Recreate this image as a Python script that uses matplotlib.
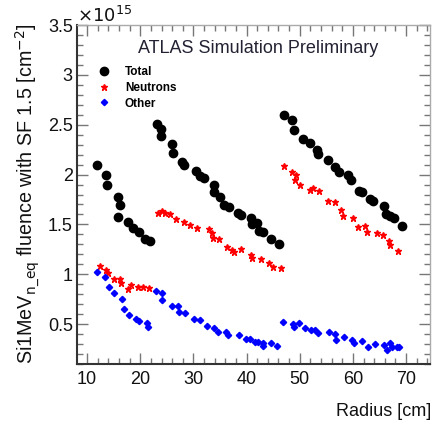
import numpy as np
import matplotlib
matplotlib.use('Agg')
import matplotlib.pyplot as plt
from matplotlib.ticker import MultipleLocator

plt.rcParams['font.family'] = ['Liberation Sans', 'DejaVu Sans']

# Total (radius cm, fluence x1e15)
tot_r = [11.9, 13.5, 13.7, 15.9, 16.1, 15.9, 17.6, 18.6, 19.8, 20.8, 21.8,
         23.2, 23.9, 23.9, 25.9, 26.1, 27.8, 28.3, 30.5, 31.2, 31.9, 33.9, 33.9, 35.0,
         35.8, 36.7, 38.3, 38.9, 40.8, 41.1, 42.0, 42.4, 43.0, 44.5, 46.1,
         47.0, 48.5, 49.0, 50.7, 52.0, 53.3, 53.5, 55.3, 56.7, 57.4, 59.0, 59.6,
         61.2, 61.8, 63.2, 63.7, 65.9, 66.2, 66.95, 67.8, 69.3]
tot_f = [2.10, 2.00, 1.90, 1.77, 1.69, 1.57, 1.52, 1.46, 1.42, 1.35, 1.33,
         2.506, 2.456, 2.39, 2.305, 2.212, 2.125, 2.094, 2.037, 1.987, 1.967, 1.894, 1.826, 1.776,
         1.69, 1.67, 1.615, 1.592, 1.56, 1.50, 1.515, 1.432, 1.42, 1.35, 1.30,
         2.597, 2.546, 2.446, 2.36, 2.318, 2.245, 2.21, 2.145, 2.077, 2.027, 2.0, 1.944,
         1.836, 1.826, 1.753, 1.733, 1.686, 1.605, 1.582, 1.562, 1.482]

# Neutrons
neu_r = [12.4, 13.6, 13.9, 15.0, 16.2, 16.3, 17.7, 18.2, 19.5, 20.6, 21.7,
         23.4, 24.1, 24.7, 25.6, 26.7, 28.2, 29.4, 30.7, 32.9, 33.5, 33.7, 34.8,
         36.4, 37.3, 37.7, 39.0, 40.9, 41.1, 42.8, 44.3, 44.9, 46.5,
         47.0, 48.5, 49.3, 49.1, 50.1, 51.9, 52.5, 53.7, 55.4, 56.6, 57.7,
         58.1, 60.1, 60.9, 62.3, 62.6, 64.6, 65.7, 66.7, 66.95, 68.4]
neu_f = [1.08, 1.04, 1.01, 0.957, 0.957, 0.917, 0.856, 0.897, 0.873, 0.873, 0.863,
         1.61, 1.636, 1.61, 1.60, 1.552, 1.525, 1.492, 1.459, 1.449, 1.415, 1.36, 1.35,
         1.278, 1.24, 1.224, 1.254, 1.198, 1.168, 1.15, 1.114, 1.073, 1.063,
         2.087, 2.027, 1.994, 1.944, 1.90, 1.85, 1.87, 1.836, 1.736, 1.726, 1.643,
         1.582, 1.565, 1.472, 1.489, 1.428, 1.41, 1.394, 1.338, 1.295, 1.238]

# Other
oth_r = [11.8, 13.3, 14.2, 15.0, 16.6, 17.0, 17.8, 19.2, 19.8, 21.3, 21.5,
         23.0, 24.0, 24.1, 25.9, 27.1, 27.3, 28.5, 30.2, 31.2, 32.5, 33.9, 34.7,
         36.1, 36.5, 38.6, 39.8, 40.6, 41.5, 42.1, 43.1, 43.1, 44.6, 45.7,
         46.8, 48.8, 49.0, 49.9, 51.0, 52.1, 52.8, 53.5, 55.5, 56.6, 56.9, 58.3,
         59.8, 60.2, 61.7, 62.8, 64.1, 65.9, 66.4, 66.95, 67.3, 68.3, 68.6]
oth_f = [1.027, 0.973, 0.873, 0.813, 0.756, 0.652, 0.588, 0.548, 0.531, 0.511, 0.471,
         0.832, 0.812, 0.746, 0.686, 0.679, 0.62, 0.612, 0.551, 0.545, 0.485, 0.465, 0.425,
         0.42, 0.387, 0.394, 0.355, 0.355, 0.324, 0.32, 0.314, 0.277, 0.31, 0.277,
         0.525, 0.501, 0.468, 0.508, 0.465, 0.445, 0.441, 0.411, 0.418, 0.405, 0.345, 0.368,
         0.34, 0.31, 0.334, 0.274, 0.30, 0.29, 0.244, 0.307, 0.267, 0.267, 0.274]

fig = plt.figure(figsize=(4.32, 4.25), dpi=100)
ax = fig.add_axes([77/432, 1-364/425, 353/432, 339/425])

ax.plot(tot_r, tot_f, 'o', color='black', ms=6, label='Total')
ax.plot(neu_r, neu_f, '*', color='red', ms=4.5, label='Neutrons')
ax.plot(oth_r, oth_f, 'D', color='blue', ms=3.2, label='Other')

ax.set_xlim(8.1, 74.5)
ax.set_ylim(0.1, 3.5)
ax.xaxis.set_major_locator(MultipleLocator(10))
ax.xaxis.set_minor_locator(MultipleLocator(2))
ax.yaxis.set_minor_locator(MultipleLocator(0.1))
ax.set_yticks([0.5, 1, 1.5, 2, 2.5, 3, 3.5])
ax.set_yticklabels(['0.5', '1', '1.5', '2', '2.5', '3', '3.5'])

ax.tick_params(which='both', direction='in', top=True, right=True,
               labelsize=13, color='#777777', labelcolor='#111111')
ax.tick_params(which='major', length=8, width=1)
ax.tick_params(which='minor', length=4, width=1)
ax.tick_params(axis='x', pad=5)
ax.tick_params(axis='y', pad=3)

for s in ['left', 'bottom']:
    ax.spines[s].set_color('#333333')
    ax.spines[s].set_linewidth(1.5)
for s in ['top', 'right']:
    ax.spines[s].set_color('#aaaaaa')
    ax.spines[s].set_linewidth(1)

ax.text(0.173, 0.932, 'ATLAS Simulation Preliminary', transform=ax.transAxes,
        fontsize=13, color='#222233', va='center')

leg = ax.legend(loc='upper left', bbox_to_anchor=(0.035, 0.895), frameon=False,
                prop={'weight': 'bold', 'size': 8.5}, handletextpad=1.0,
                labelspacing=0.3, handlelength=1.5, borderpad=0)

fig.text(77/432, 1-16/425, r'$\times10^{15}$', fontsize=13, color='#111111',
         ha='left', va='center')
fig.text(27/432, 1-23/425, r'Si1MeV$_{\mathrm{n\_eq}}$ fluence with SF 1.5 [cm$^{-2}$]',
         rotation=90, fontsize=14.2, ha='center', va='top', color='#111111')
fig.text(431/432, 1-411/425, 'Radius [cm]', fontsize=13, ha='right', va='center',
         color='#111111')

fig.savefig('out.png', dpi=100)
